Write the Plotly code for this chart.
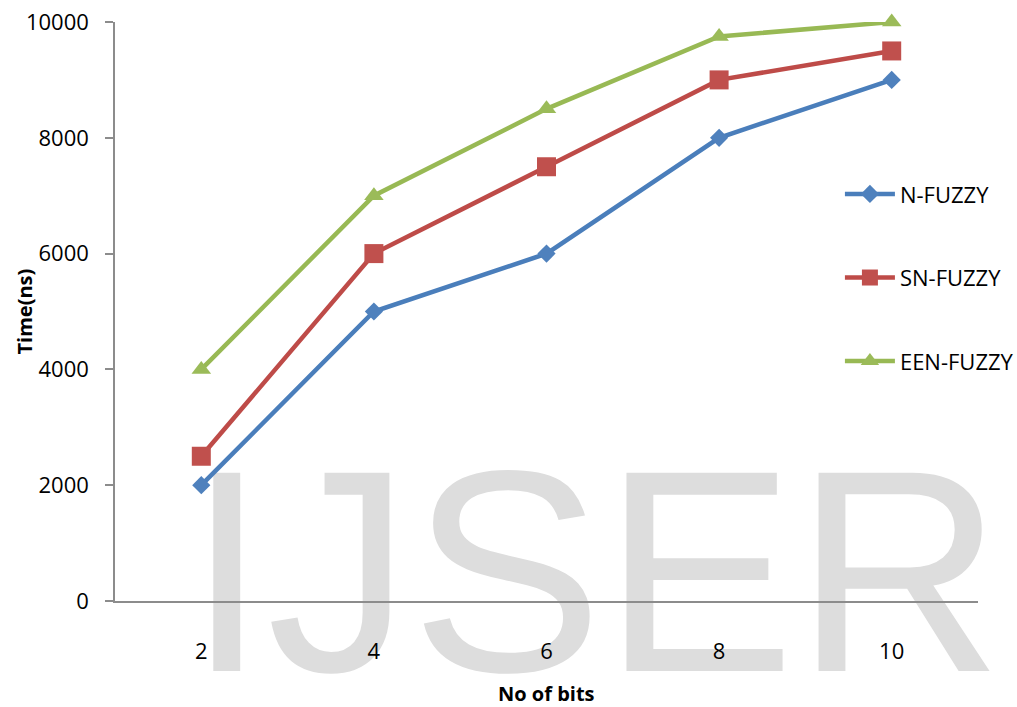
import plotly.graph_objects as go

# Word length (bits) on the x axis and response time in ns for each variant
bits = ["2", "4", "6", "8", "10"]
n_fuzzy = [2000, 5000, 6000, 8000, 9000]
sn_fuzzy = [2500, 6000, 7500, 9000, 9500]
een_fuzzy = [4000, 7000, 8500, 9750, 10000]

series_names = ["N-FUZZY", "SN-FUZZY", "EEN-FUZZY"]
y_ticks = [0, 2000, 4000, 6000, 8000, 10000]

x_idx = list(range(len(bits)))

FONT = "Open Sans"
AXIS_GRAY = "#8c8c8c"

fig = go.Figure()

# Background watermark, placed as a text trace so it sits behind the lines
fig.add_trace(go.Scatter(
    x=[2.28], y=[35], mode="text", text=["IJSER"],
    textposition="middle center",
    textfont=dict(family="Liberation Sans", size=288, color="#dddddd"),
    cliponaxis=False, showlegend=False, hoverinfo="skip",
))

styles = [
    dict(line="#4A7EBB", marker="#4F81BD", symbol="diamond", size=14),
    dict(line="#BE4B48", marker="#C0504D", symbol="square", size=19),
    dict(line="#98B954", marker="#9BBB59", symbol="triangle-up", size=17),
]

for name, vals, st in zip(series_names, [n_fuzzy, sn_fuzzy, een_fuzzy], styles):
    fig.add_trace(go.Scatter(
        x=x_idx, y=vals, name=name, mode="lines+markers",
        legendgroup=name,
        line=dict(color=st["line"], width=4.5),
        marker=dict(color=st["marker"], symbol=st["symbol"], size=st["size"],
                    line=dict(width=0)),
        cliponaxis=False,
    ))

fig.update_layout(
    width=1017, height=707,
    margin=dict(l=115, r=39, t=22, b=106, autoexpand=False),
    paper_bgcolor="white", plot_bgcolor="white",
    font=dict(family=FONT, color="black", size=22),
    showlegend=True,
    legend=dict(
        x=0.840, y=0.739, xanchor="left", yanchor="top",
        font=dict(family=FONT, size=22, color="black"),
        tracegroupgap=52, itemwidth=50,
        bgcolor="rgba(0,0,0,0)",
    ),
    xaxis=dict(
        range=[-0.5, len(bits) - 0.5],
        tickmode="array", tickvals=x_idx, ticktext=bits,
        showgrid=False, zeroline=False,
        showline=True, linecolor=AXIS_GRAY, linewidth=1.5,
        ticks="", ticklabelstandoff=30, automargin=False,
        tickfont=dict(family=FONT, size=22, color="black"),
    ),
    yaxis=dict(
        range=[0, 10000],
        tickmode="array", tickvals=y_ticks,
        ticktext=[str(v) for v in y_ticks],
        showgrid=False, zeroline=False,
        showline=True, linecolor=AXIS_GRAY, linewidth=1.5,
        ticks="outside", ticklen=8, tickwidth=1.5, tickcolor=AXIS_GRAY,
        ticklabelstandoff=12, automargin=False,
        tickfont=dict(family=FONT, size=22, color="black"),
    ),
    annotations=[
        dict(text="No of bits", xref="paper", yref="paper", x=0.5, y=-0.159,
             xanchor="center", yanchor="middle", showarrow=False,
             font=dict(family=FONT, size=20, color="black", weight="bold")),
        dict(text="Time(ns)", xref="paper", yref="paper", x=-0.1043, y=0.5,
             xanchor="center", yanchor="middle", showarrow=False, textangle=-90,
             font=dict(family=FONT, size=20, color="black", weight="bold")),
    ],
)

fig.write_html("out.html")
